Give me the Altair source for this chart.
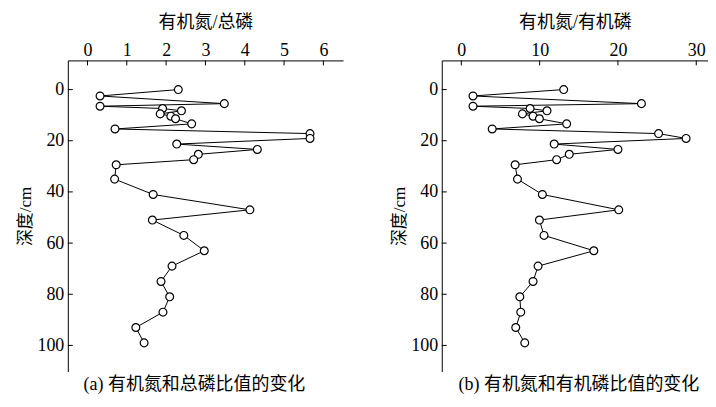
import altair as alt
import pandas as pd

# depths (cm)
depth = [0, 2.5, 5.5, 6.5, 7.4, 8.3, 9.5, 10.4, 11.4, 13.4, 15.4, 17.2, 19.1, 21.3, 23.4,
         25.3, 27.4, 29.4, 35, 41, 47, 51, 57, 63, 69, 75, 81, 87, 93, 99]
# organic N / total P
on_tp = [2.31, 0.32, 3.48, 0.32, 1.91, 2.39, 1.85, 2.12, 2.24, 2.65, 0.70, 5.66, 5.66, 2.27, 4.32,
         2.82, 2.70, 0.73, 0.69, 1.67, 4.13, 1.65, 2.45, 2.97, 2.15, 1.87, 2.09, 1.92, 1.23, 1.44]
# organic N / organic P
on_op = [13.07, 1.49, 23.0, 1.49, 8.78, 10.94, 7.80, 9.16, 9.97, 13.45, 3.94, 25.19, 28.7, 11.86, 20.0,
         13.78, 12.17, 6.87, 7.17, 10.35, 20.1, 9.97, 10.56, 16.92, 9.80, 9.16, 7.47, 7.59, 6.95, 8.10]

y_ticks = [0, 20, 40, 60, 80, 100]
xa_ticks = [0, 1, 2, 3, 4, 5, 6]
xb_ticks = [0, 10, 20, 30]

titles_top = ["有机氮/总磷", "有机氮/有机磷"]
captions = ["(a) 有机氮和总磷比值的变化", "(b) 有机氮和有机磷比值的变化"]

FONT = "Liberation Serif, Noto Sans CJK SC"
Y_DOMAIN = [-11.4, 110.2]


def panel(vals, xticks, xdomain, width, xtitle, caption, dx):
    df = pd.DataFrame({"depth": depth, "val": vals})
    ydf = pd.DataFrame({"depth": y_ticks})
    xdf = pd.DataFrame({"val": xticks})

    X = alt.X("val:Q", scale=alt.Scale(domain=xdomain, nice=False, zero=False),
              axis=alt.Axis(orient="top", values=xticks, title=xtitle, ticks=False,
                            grid=False, labelPadding=1, titlePadding=10,
                            labelFont=FONT, labelFontSize=18, titleFont=FONT,
                            titleFontSize=18, titleFontWeight="normal",
                            domainColor="black", labelColor="black", titleColor="black"))
    Y = alt.Y("depth:Q", scale=alt.Scale(domain=Y_DOMAIN, nice=False, zero=False, reverse=True),
              axis=alt.Axis(orient="left", values=y_ticks, title="深度/cm", ticks=False,
                            grid=False, labelPadding=4, titlePadding=2,
                            labelFont=FONT, labelFontSize=18, titleFont=FONT,
                            titleFontSize=17, titleFontWeight="normal",
                            domainColor="black", labelColor="black", titleColor="black"))

    line = alt.Chart(df).mark_line(color="black", strokeWidth=1).encode(
        x=X, y=Y, order=alt.Order("depth:Q"))
    pts = alt.Chart(df).mark_point(shape="circle", filled=True, fill="white", stroke="black",
                                   strokeWidth=1.2, size=62, opacity=1).encode(x=X, y=Y)
    yt = alt.Chart(ydf).mark_rule(color="black", strokeWidth=1).encode(
        y=Y, x=alt.value(0), x2=alt.value(5))
    xt = alt.Chart(xdf).mark_rule(color="black", strokeWidth=1).encode(
        x=X, y=alt.value(0), y2=alt.value(5))
    return alt.layer(line, pts, yt, xt).properties(
        width=width, height=312,
        title=alt.TitleParams(text=caption, orient="bottom", anchor="middle", font=FONT,
                              fontSize=18, fontWeight="normal", color="black", offset=5, dx=dx))


a = panel(on_tp, xa_ticks, [-0.5, 6.5], 276, titles_top[0], captions[0], -11)
b = panel(on_op, xb_ticks, [-2.5, 31.5], 267, titles_top[1], captions[1], 4)

chart = alt.hconcat(a, b, spacing=48).configure_view(strokeWidth=0).configure_axis(
    domainWidth=1).properties(padding={"left": 9, "top": 5, "right": 0, "bottom": 5})

chart.save("out.html", embed_options={"renderer": "svg", "actions": False})
